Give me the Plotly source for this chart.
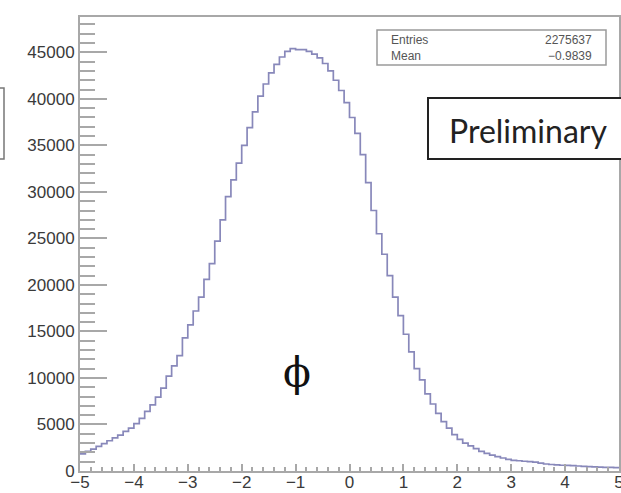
import numpy as np
import plotly.graph_objects as go

# Histogram: 100 bins from -5 to 5 (lower bin edges)
bin_lo = np.round(np.arange(-5.0, 5.0, 0.1), 2)
bin_width = 0.1
counts = [
    1850, 2100, 2350, 2650, 2950, 3250, 3550, 3850, 4250, 4600,
    5100, 5650, 6400, 7100, 7950, 8900, 10200, 11300, 12400, 14300,
    15700, 17200, 18700, 20600, 22300, 24700, 27000, 29500, 31300, 33100,
    35000, 36900, 38600, 40300, 41600, 42800, 43700, 44500, 45100, 45400,
    45300, 45300, 45100, 44800, 44400, 43800, 43000, 42000, 40900, 39600,
    38000, 36300, 34000, 31000, 28000, 25500, 23300, 21000, 18700, 16700,
    14700, 12800, 11000, 9800, 8300, 7200, 6200, 5300, 4600, 3900,
    3400, 3000, 2700, 2400, 2100, 1900, 1700, 1550, 1400, 1250,
    1150, 1100, 1050, 1000, 950, 850, 750, 700, 650, 620,
    600, 570, 540, 500, 470, 440, 420, 400, 380, 360,
]
stats_labels = ["Entries", "Mean"]
stats_values = ["2275637", "\u22120.9839"]
x_range = [-5, 5]
y_range = [0, 48800]

edges = list(bin_lo) + [float(bin_lo[-1] + bin_width)]
ystep = list(counts) + [counts[-1]]

fig = go.Figure()
fig.add_trace(go.Scatter(
    x=edges, y=ystep, mode="lines", line_shape="hv",
    line=dict(color="#8888ba", width=1.7), hoverinfo="skip", showlegend=False,
))

W, H = 621, 493
L, R, T, B = 80, 2, 17, 22
pw, ph = W - L - R, H - T - B


def px(x):
    return (x - L) / pw


def py(y):
    return (H - B - y) / ph


axis_common = dict(
    showgrid=False, zeroline=False, showline=True, mirror=True, automargin=False,
    linecolor="#a8a8a8", linewidth=2, ticks="inside", tickcolor="#a8a8a8",
    tickwidth=2, ticklabeloverflow="allow",
    tickfont=dict(family="Liberation Sans, Arial, sans-serif", size=17, color="#3a3a3a"),
)

fig.update_layout(
    width=W, height=H, margin=dict(l=L, r=R, t=T, b=B),
    paper_bgcolor="white", plot_bgcolor="white", showlegend=False,
    xaxis=dict(range=x_range, dtick=1, tick0=0, ticklen=7, ticklabelstandoff=-5,
               minor=dict(dtick=0.2, ticklen=4, tickcolor="#a8a8a8", tickwidth=1.5, ticks="inside"),
               **axis_common),
    yaxis=dict(range=y_range, dtick=5000, tick0=0, ticklen=27, tickformat="d",
               minor=dict(dtick=1000, ticklen=15, tickcolor="#a8a8a8", tickwidth=1.5, ticks="inside"),
               **axis_common),
)

shapes = []
# stats box
shapes.append(dict(type="rect", xref="paper", yref="paper",
                   x0=px(377), x1=px(606), y0=py(65), y1=py(30),
                   line=dict(color="#9a9a9a", width=1.5), fillcolor="white", layer="above"))
# Preliminary box
shapes.append(dict(type="rect", xref="paper", yref="paper",
                   x0=px(428), x1=px(626), y0=py(159), y1=py(98),
                   line=dict(color="#222222", width=2), fillcolor="white", layer="above"))
# partial box at left edge
shapes.append(dict(type="rect", xref="paper", yref="paper",
                   x0=px(-10), x1=px(4), y0=py(159), y1=py(88),
                   line=dict(color="#777777", width=1.5), fillcolor="rgba(0,0,0,0)", layer="above"))
fig.update_layout(shapes=shapes)

ann = []
for i, (lab, val) in enumerate(zip(stats_labels, stats_values)):
    yy = py(40 + 16 * i)
    ann.append(dict(xref="paper", yref="paper", x=px(389), y=yy, text=lab, showarrow=False,
                    xanchor="left", yanchor="middle",
                    font=dict(family="Liberation Sans, Arial", size=12, color="#555555")))
    ann.append(dict(xref="paper", yref="paper", x=px(594), y=yy, text=val, showarrow=False,
                    xanchor="right", yanchor="middle",
                    font=dict(family="Liberation Sans, Arial", size=12, color="#555555")))
ann.append(dict(xref="paper", yref="paper", x=px(528), y=py(131), text="Preliminary",
                showarrow=False, xanchor="center", yanchor="middle",
                font=dict(family="Lato, Open Sans, sans-serif", size=32, color="#222222")))
ann.append(dict(xref="paper", yref="paper", x=px(297), y=py(372), text="\u03d5",
                showarrow=False, xanchor="center", yanchor="middle",
                font=dict(family="DejaVu Serif, serif", size=41, color="#111111")))
fig.update_layout(annotations=ann)

fig.write_html("out.html", config={"displayModeBar": False},
               post_script="document.body.style.margin='0px';")
